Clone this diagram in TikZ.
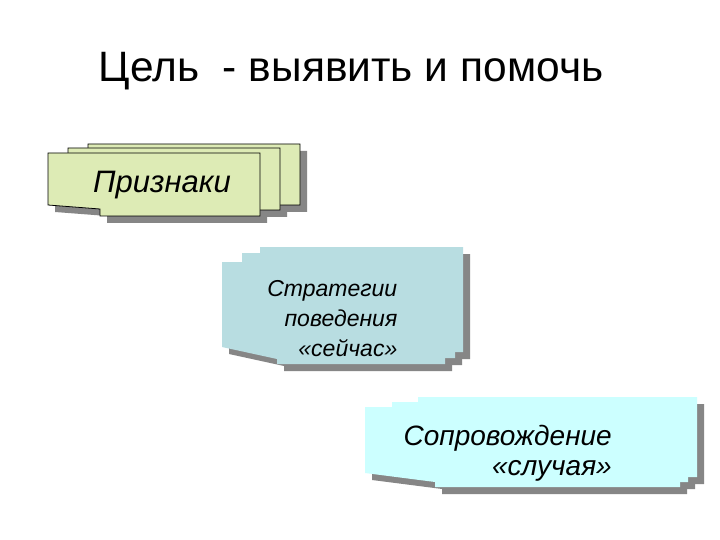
\documentclass[tikz,border=0pt]{standalone}
\usepackage{fontspec}
\setmainfont{Liberation Sans}
\definecolor{shadowgray}{HTML}{868686}
\definecolor{greenfill}{HTML}{DDEBB5}
\definecolor{bluefill}{HTML}{B8DDE1}
\definecolor{cyanfill}{HTML}{CCFFFF}
\newcommand\docpath[7]{(#1,#2) -- (#3,#2) -- (#3,#4) -- (#5,#4) -- (#5,#6) -- (#1,#7) -- cycle}
\tikzset{
  shadowpage/.style={fill=shadowgray, draw=none},
  greenpage/.style={fill=greenfill, draw=black, line width=0.8pt, line join=miter},
  bluepage/.style={fill=bluefill, draw=none},
  cyanpage/.style={fill=cyanfill, draw=none},
  titletext/.style={inner sep=0pt, anchor=base, font=\fontsize{42.5}{48}\selectfont},
  bigitalic/.style={inner sep=0pt, font=\itshape\fontsize{31}{34}\selectfont},
  smallitalic/.style={inner sep=0pt, anchor=base east, font=\itshape\fontsize{23}{26}\selectfont},
  miditalic/.style={inner sep=0pt, anchor=base east, font=\itshape\fontsize{28}{31}\selectfont},
}
\begin{document}
\begin{tikzpicture}[x=1pt,y=-1pt]
\useasboundingbox (0,0) rectangle (720,540);
\fill[white] (0,0) rectangle (720,540);

% ---------- shape 1 : Признаки ----------
\begin{scope}[shift={(7,7)}]
  \fill[shadowpage] \docpath{88}{144}{300}{205}{140}{198}{194};
  \fill[shadowpage] \docpath{68}{148}{280}{210}{120}{203}{199};
  \fill[shadowpage] \docpath{48}{153}{260}{216}{100}{209}{205};
\end{scope}
\filldraw[greenpage] \docpath{88}{144}{300}{205}{140}{198}{194};
\filldraw[greenpage] \docpath{68}{148}{280}{210}{120}{203}{199};
\filldraw[greenpage] \docpath{48}{153}{260}{216}{100}{209}{205};

% ---------- shape 2 : Стратегии ----------
\begin{scope}[shift={(7,7)}]
  \fill[shadowpage] \docpath{260}{247}{463}{352}{315}{347}{335};
  \fill[shadowpage] \docpath{242}{253}{455}{358}{297}{353}{341};
  \fill[shadowpage] \docpath{222}{262}{445}{364}{277}{359}{347};
\end{scope}
\fill[bluepage] \docpath{260}{247}{463}{352}{315}{347}{335};
\fill[bluepage] \docpath{242}{253}{455}{358}{297}{353}{341};
\fill[bluepage] \docpath{222}{262}{445}{364}{277}{359}{347};

% ---------- shape 3 : Сопровождение ----------
\begin{scope}[shift={(7,7)}]
  \fill[shadowpage] \docpath{418}{397}{697}{477}{488}{472}{463};
  \fill[shadowpage] \docpath{392}{402}{688}{482}{462}{477}{468};
  \fill[shadowpage] \docpath{365}{407}{680}{487}{435}{482}{473};
\end{scope}
\fill[cyanpage] \docpath{418}{397}{697}{477}{488}{472}{463};
\fill[cyanpage] \docpath{392}{402}{688}{482}{462}{477}{468};
\fill[cyanpage] \docpath{365}{407}{680}{487}{435}{482}{473};

% ---------- texts ----------
\node[titletext] (title) at (351,82) {Цель\ \ - выявить и помочь};
\node[bigitalic, anchor=base] (priznaki) at (162,193) {Признаки};
\node[smallitalic] (strat1) at (397.5,296) {Стратегии};
\node[smallitalic] (strat2) at (397.5,326.5) {поведения};
\node[smallitalic] (strat3) at (397.5,356) {«сейчас»};
\node[miditalic] (sopr1) at (612,445.5) {Сопровождение};
\node[miditalic] (sopr2) at (612,475) {«случая»};
\end{tikzpicture}
\end{document}
